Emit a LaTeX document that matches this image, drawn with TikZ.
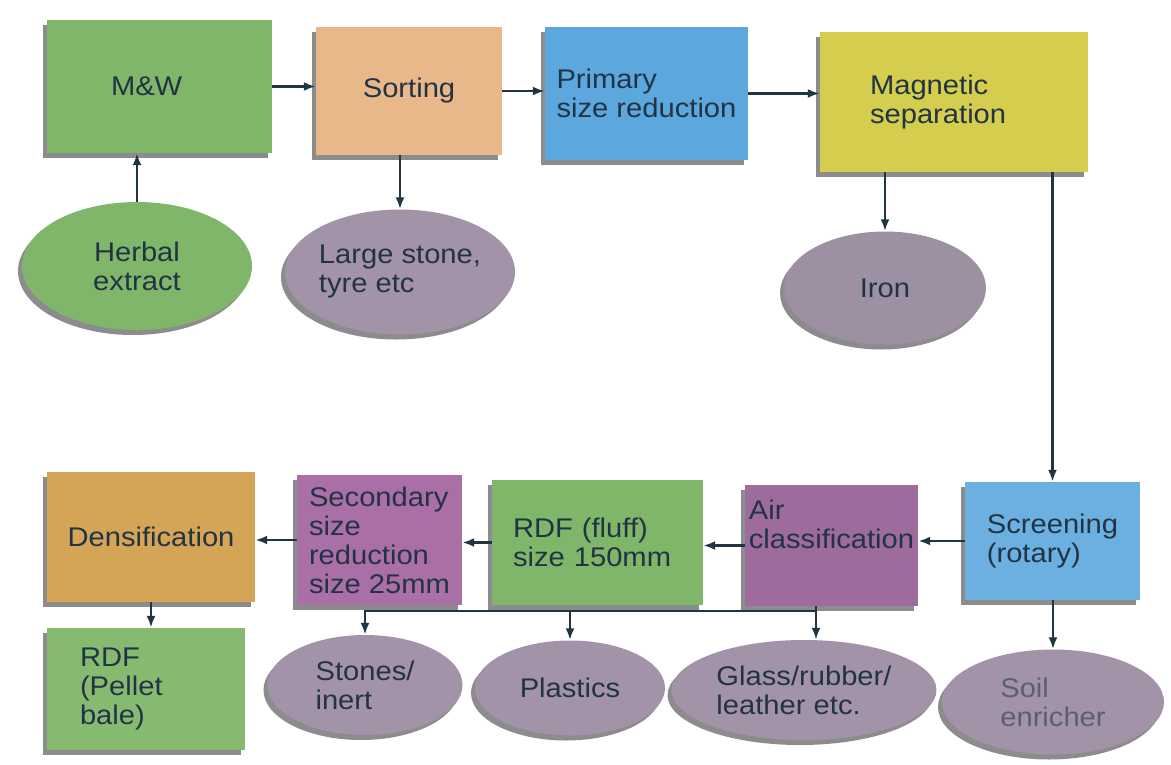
\documentclass[tikz,border=0pt]{standalone}
\usepackage{fontspec}
\setmainfont{Liberation Sans}[FakeStretch=1.08]
\usepackage{tikz}
\usetikzlibrary{positioning, arrows.meta, shapes.geometric, shadows}

\definecolor{txtcol}{HTML}{223443}
\definecolor{arrowcol}{HTML}{1F3541}
\definecolor{leafgreen}{HTML}{80B66A}
\definecolor{peach}{HTML}{E8B88A}
\definecolor{skyblue}{HTML}{5CA7DE}
\definecolor{mustard}{HTML}{D5CD4E}
\definecolor{ochre}{HTML}{D4A556}
\definecolor{plum}{HTML}{A96FA6}
\definecolor{dullplum}{HTML}{9D6B9C}
\definecolor{mauve}{HTML}{A393A9}
\newcommand{\boxfont}{\fontsize{27}{29}\selectfont}

\begin{document}
\begin{tikzpicture}[
        x=1pt, y=-1pt,
        every node/.style={font=\boxfont, text=txtcol, align=left},
        stage/.style={rectangle, inner sep=0pt, drop shadow={shadow xshift=-4pt, shadow yshift=-5pt, fill=black, opacity=0.45}},
        product/.style={ellipse, inner sep=0pt, fill=mauve, drop shadow={shadow xshift=-4pt, shadow yshift=-5pt, fill=black, opacity=0.45}},
        edge/.style={-{Latex[length=12pt, width=9pt]}, line width=2.4pt, draw=arrowcol}
    ]
        \fill[white] (0,0) rectangle (1171,764);
        \useasboundingbox (0,0) rectangle (1171,764);
        % Top row
        \node[stage, fill=leafgreen, minimum width=225pt, minimum height=133pt, text width=97pt] (mw) at (159.5,86.5) {M\&W};
        \node[stage, fill=peach, minimum width=186pt, minimum height=128pt] (sort) at (409,91) {Sorting};
        \node[stage, fill=skyblue, minimum width=203pt, minimum height=133pt] (prim) at (646.5,93.5) {Primary\\size reduction};
        \node[stage, fill=mustard, minimum width=268pt, minimum height=140pt, text width=168pt] (mag) at (954,102) {Magnetic\\separation};
        % Side products, top
        \node[product, fill=leafgreen, align=center, minimum width=230pt, minimum height=128pt] (herb) at (137,266) {Herbal\\extract};
        \node[product, minimum width=230pt, minimum height=125pt] (lstone) at (400,272) {Large stone,\\tyre etc};
        \node[product, fill=mauve!85!gray, minimum width=202pt, minimum height=113pt] (iron) at (885,288) {Iron};
        % Bottom row
        \node[stage, fill=skyblue!90!white, minimum width=175pt, minimum height=118pt] (scr) at (1052.5,541) {Screening\\(rotary)};
        \node[stage, fill=dullplum, minimum width=173pt, minimum height=121pt, text depth=42pt] (air) at (831.5,545.5) {Air\\classification};
        \node[stage, fill=leafgreen, minimum width=211pt, minimum height=125pt, text width=169pt] (fluff) at (597.5,542.5) {RDF (fluff)\\size 150mm};
        \node[stage, fill=plum, minimum width=165pt, minimum height=130pt] (sec) at (379.5,540) {Secondary\\size\\reduction\\size 25mm};
        \node[stage, fill=ochre, minimum width=208pt, minimum height=130pt] (dens) at (151,537) {Densification};
        \node[stage, fill=leafgreen!95!white, minimum width=198pt, minimum height=122pt, text width=132pt] (pellet) at (146,689) {RDF\\(Pellet\\bale)};
        % Side products, bottom
        \node[product, minimum width=195pt, minimum height=100pt] (stones) at (365,685) {Stones/\\inert};
        \node[product, minimum width=190pt, minimum height=95pt] (plast) at (570,688) {Plastics};
        \node[product, minimum width=265pt, minimum height=100pt] (glass) at (804,690) {Glass/rubber/\\leather etc.};
        \node[product, minimum width=222pt, minimum height=105pt, text=txtcol!55!mauve] (soil) at (1053,702) {Soil\\enricher};
        \coordinate (split) at (816,611);
        % Edges: main line, top
        \draw[edge] (mw.east) -- (mw.east -| sort.west);
        \draw[edge] (sort.east) -- (sort.east -| prim.west);
        \draw[edge] (prim.east) -- (prim.east -| mag.west);
        \draw[edge] (scr.north |- mag.south) -- (scr.north);
        % Edges: main line, bottom
        \draw[edge] (scr.west) -- (scr.west -| air.east);
        \draw[edge] (air.west) -- (air.west -| fluff.east);
        \draw[edge] (fluff.west) -- (fluff.west -| sec.east);
        \draw[edge] (sec.west) -- (sec.west -| dens.east);
        \draw[edge] (dens.south) -- (dens.south |- pellet.north);
        % Edges: side products
        \draw[edge] (herb.north) -- (herb.north |- mw.south);
        \draw[edge] (lstone.north |- sort.south) -- (lstone.north);
        \draw[edge] (iron.north |- mag.south) -- (iron.north);
        \draw[edge] (soil.north |- scr.south) -- (soil.north);
        \draw[edge] (split |- air.south) -- (split |- glass.north);
        \draw[edge] (split) -| (stones.north);
        \draw[edge] (plast.north |- split) -- (plast.north);
    \end{tikzpicture}
\end{document}
